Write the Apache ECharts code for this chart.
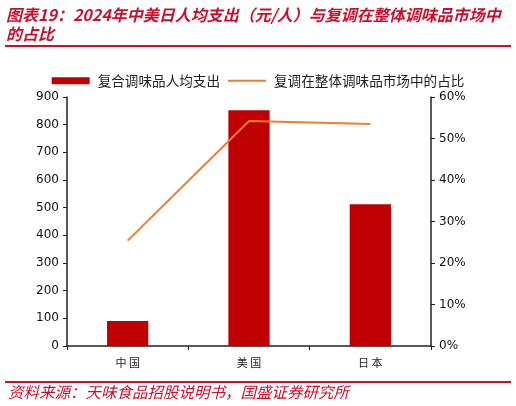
<!DOCTYPE html>
<html><head><meta charset="utf-8">
<script src="https://cdn.jsdelivr.net/npm/echarts@6/dist/echarts.min.js"></script>
<style>html,body{margin:0;padding:0;background:#fff}#c{width:516px;height:406px}</style>
</head><body><div id="c"></div>
<script>
const categories = ['中国', '美国', '日本'];
const spending = [90, 852, 512];
const share = [25.4, 54.2, 53.5];
const leftTicks = [0, 900, 100];
const rightTicks = [0, 60, 10];
const seriesNames = ['复合调味品人均支出', '复调在整体调味品市场中的占比'];
const titleText = '图表19：2024年中美日人均支出（元/人）与复调在整体调味品市场中\n的占比';
const sourceText = '资料来源：天味食品招股说明书，国盛证券研究所';

const red = '#C00000';
const cjk = '"Noto Sans CJK SC", sans-serif';
const chart = echarts.init(document.getElementById('c'));
chart.setOption({
  animation: false,
  backgroundColor: '#fff',
  graphic: [
    {type: 'text', left: 6, top: 5, style: {text: titleText, fill: '#C8102E', font: 'italic bold 16px "Noto Sans CJK SC"', lineHeight: 19}},
    {type: 'rect', shape: {x: 5, y: 45, width: 506, height: 2}, style: {fill: '#C8102E'}},
    {type: 'rect', shape: {x: 5, y: 381, width: 506, height: 2}, style: {fill: '#C8102E'}},
    {type: 'text', left: 8, top: 384, style: {text: sourceText, fill: '#C8102E', font: 'italic 15.5px "Noto Sans CJK SC"'}}
  ],
  legend: {
    top: 69, left: 'center',
    itemWidth: 38, itemHeight: 7, itemGap: 7,
    textStyle: {fontFamily: cjk, fontSize: 13.6, color: '#222', padding: [0, 0, 0, 3]},
    data: [{name: seriesNames[0], icon: 'rect'}, {name: seriesNames[1], itemStyle: {opacity: 0}}]
  },
  grid: {left: 67, right: 85, top: 97, bottom: 60},
  xAxis: {
    type: 'category', data: categories,
    axisLine: {lineStyle: {color: '#222', width: 1.5}},
    axisTick: {show: true, length: 4, lineStyle: {color: '#222'}},
    axisLabel: {fontFamily: cjk, fontSize: 11, color: '#222', margin: 11,
      formatter: v => v.split('').join(' ')}
  },
  yAxis: [
    {type: 'value', min: leftTicks[0], max: leftTicks[1], interval: leftTicks[2],
     splitLine: {show: false},
     axisLine: {show: true, lineStyle: {color: '#222', width: 1.5}},
     axisTick: {show: true, inside: false, length: 4, lineStyle: {color: '#222'}},
     axisLabel: {fontFamily: 'DejaVu Sans', fontSize: 12, color: '#111', margin: 8}},
    {type: 'value', min: rightTicks[0], max: rightTicks[1], interval: rightTicks[2],
     splitLine: {show: false},
     axisLine: {show: true, lineStyle: {color: '#222', width: 1.5}},
     axisTick: {show: true, length: 4, lineStyle: {color: '#222'}},
     axisLabel: {fontFamily: 'DejaVu Sans', fontSize: 12, color: '#111', margin: 8,
       formatter: v => v + '%'}}
  ],
  series: [
    {name: seriesNames[0], type: 'bar', data: spending, barWidth: '34%',
     itemStyle: {color: red}},
    {name: seriesNames[1], type: 'line', yAxisIndex: 1, data: share,
     symbol: 'none', lineStyle: {color: '#ED7D31', width: 2}, itemStyle: {color: '#ED7D31'}}
  ]
});
</script></body></html>
